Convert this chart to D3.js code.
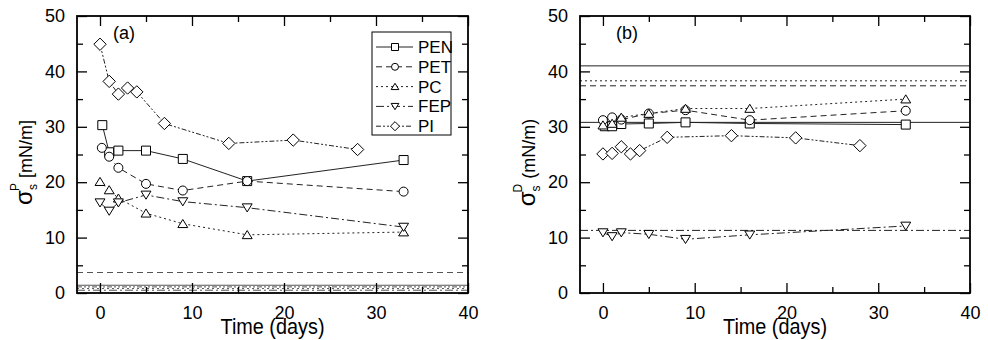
<!DOCTYPE html>
<html><head><meta charset="utf-8">
<script src="https://cdn.jsdelivr.net/npm/d3@7"></script>
<style>body{margin:0;background:#fff}svg{display:block;font-family:"Liberation Sans",Arial,sans-serif}</style>
</head><body><svg id="c" width="988" height="340"></svg>
<script>
// ---- data ----
const seriesNames = ["PEN","PET","PC","FEP","PI"];
const xTicks = [0,10,20,30,40];
const yTicks = [0,10,20,30,40,50];
// panel (a): polar component
const aPEN_x = [0.25,1,2,5,9,16,33];   const aPEN_y = [30.3,25.4,25.7,25.7,24.2,20.2,24.0];
const aPET_x = [0.2,1,2,5,9,16,33];    const aPET_y = [26.2,24.6,22.6,19.7,18.5,20.2,18.3];
const aPC_x  = [0,1,2,5,9,16,33];      const aPC_y  = [20.1,18.6,17.1,14.4,12.5,10.5,11.0];
const aFEP_x = [0,1,2,5,9,16,33];      const aFEP_y = [16.3,14.8,16.3,17.7,16.5,15.4,11.9];
const aPI_x  = [0,1,2,3,4,7,14,21,28]; const aPI_y  = [44.9,38.2,35.9,37.0,36.3,30.6,27.0,27.6,25.9];
const aRef   = {PEN:1.4, PET:3.7, PC:0.8, FEP:0.5, PI:1.1};
// panel (b): dispersive component
const bPEN_x = [0.2,1,2,5,9,16,33];    const bPEN_y = [30.1,30.1,30.5,30.6,30.8,30.6,30.4];
const bPET_x = [0,1,2,5,9,16,33];      const bPET_y = [31.2,31.7,31.3,32.4,33.0,31.2,32.9];
const bPC_x  = [0,1,2,5,9,16,33];      const bPC_y  = [30.3,30.6,31.7,32.4,33.3,33.3,35.0];
const bFEP_x = [0,1,2,5,9,16,33];      const bFEP_y = [10.9,10.2,10.9,10.6,9.7,10.5,12.1];
const bPI_x  = [0,1,2,3,4,7,14,21,28]; const bPI_y  = [25.1,25.2,26.4,25.1,25.7,28.1,28.4,28.0,26.6];
const bRef   = {PEN:30.8, PET:37.4, PC:38.3, FEP:11.3, PI:41.0};

// ---- styles ----
const dash = {PEN:null, PET:"6,4", PC:"2,3", FEP:"8,3,2,3", PI:"5,2,2,2,2,2"};
function markerPath(name, s){
  const h=s/2;
  if(name==="PEN") return `M${-h},${-h}H${h}V${h}H${-h}Z`;
  if(name==="PET") return d3.symbol(d3.symbolCircle, Math.PI*h*h)();
  if(name==="PC")  return `M0,${-h*0.95}L${h*1.1},${h*0.85}L${-h*1.1},${h*0.85}Z`;
  if(name==="FEP") return `M0,${h*0.95}L${h*1.1},${-h*0.85}L${-h*1.1},${-h*0.85}Z`;
  if(name==="PI")  return `M0,${-h*1.3}L${h*1.3},0L0,${h*1.3}L${-h*1.3},0Z`;
}

const svg = d3.select("#c");
const TF = 18;

function panel(cfg){
  const g = svg.append("g");
  const x = d3.scaleLinear().domain([-2.5,40]).range([cfg.left,cfg.right]);
  const y = d3.scaleLinear().domain([0,50]).range([cfg.bottom,cfg.top]);

  // reference lines
  seriesNames.forEach(n=>{
    const dd = (cfg.refDash && n in cfg.refDash) ? cfg.refDash[n] : dash[n];
    g.append("line").attr("x1",cfg.left).attr("x2",cfg.right)
      .attr("y1",y(cfg.ref[n])).attr("y2",y(cfg.ref[n]))
      .attr("stroke", cfg.refColor).attr("stroke-width",1)
      .attr("stroke-dasharray",dd);
  });

  // series
  const line = d3.line().x(d=>x(d[0])).y(d=>y(d[1]));
  cfg.series.forEach(s=>{
    const pts = s.x.map((v,i)=>[v,s.y[i]]);
    g.append("path").attr("d",line(pts)).attr("fill","none")
      .attr("stroke","#222").attr("stroke-width",1).attr("stroke-dasharray",dash[s.name]);
  });
  cfg.series.forEach(s=>{
    const pts = s.x.map((v,i)=>[v,s.y[i]]);
    g.selectAll(null).data(pts).join("path")
      .attr("d",markerPath(s.name, s.name==="PI"?9.5:9))
      .attr("transform",d=>`translate(${x(d[0])},${y(d[1])})`)
      .attr("fill","#fff").attr("stroke","#000").attr("stroke-width",1);
  });

  // axes
  const minorX = [5,15,25,35], minorY=[5,15,25,35,45];
  g.append("g").attr("transform",`translate(0,${cfg.bottom})`)
    .call(d3.axisBottom(x).tickValues(xTicks).tickSize(-10).tickPadding(13).tickFormat(d3.format("d")));
  g.append("g").attr("transform",`translate(0,${cfg.bottom})`)
    .call(d3.axisBottom(x).tickValues(minorX).tickSize(-6).tickFormat(""));
  g.append("g").attr("transform",`translate(0,${cfg.top})`)
    .call(d3.axisTop(x).tickValues(xTicks).tickSize(-10).tickFormat(""));
  g.append("g").attr("transform",`translate(0,${cfg.top})`)
    .call(d3.axisTop(x).tickValues(minorX).tickSize(-6).tickFormat(""));
  g.append("g").attr("transform",`translate(${cfg.left},0)`)
    .call(d3.axisLeft(y).tickValues(yTicks).tickSize(-10).tickPadding(12).tickFormat(d3.format("d")));
  g.append("g").attr("transform",`translate(${cfg.left},0)`)
    .call(d3.axisLeft(y).tickValues(minorY).tickSize(-6).tickFormat(""));
  g.append("g").attr("transform",`translate(${cfg.right},0)`)
    .call(d3.axisRight(y).tickValues(yTicks).tickSize(-10).tickFormat(""));
  g.append("g").attr("transform",`translate(${cfg.right},0)`)
    .call(d3.axisRight(y).tickValues(minorY).tickSize(-6).tickFormat(""));
  g.selectAll(".domain").remove();
  g.selectAll(".tick line").attr("stroke","#000").attr("stroke-width",1.3);
  g.selectAll(".tick text").attr("font-size",TF).attr("fill","#000")
    .attr("font-family","Liberation Sans, Arial, sans-serif");

  // frame
  g.append("rect").attr("x",cfg.left).attr("y",cfg.top)
    .attr("width",cfg.right-cfg.left).attr("height",cfg.bottom-cfg.top)
    .attr("fill","none").attr("stroke","#000").attr("stroke-width",1.8);

  // panel label
  g.append("text").attr("x",cfg.left+36).attr("y",cfg.top+23)
    .attr("font-size",18).text(cfg.tag);

  // x title
  g.append("text").attr("x",(cfg.left+cfg.right)/2).attr("y",334)
    .attr("text-anchor","middle").attr("font-size",22)
    .attr("textLength",104).attr("lengthAdjust","spacingAndGlyphs")
    .text("Time (days)");

  // y title
  const yt = g.append("text")
    .attr("transform",`translate(${cfg.left-45},${(cfg.top+cfg.bottom)/2+8}) rotate(-90)`)
    .attr("text-anchor","middle").attr("font-size",18);
  yt.append("tspan").attr("font-size",24).text("σ");
  yt.append("tspan").attr("font-size",12).attr("dy",5).text("s");
  yt.append("tspan").attr("font-size",12).attr("dx",-7).attr("dy",-18).text(cfg.sup);
  yt.append("tspan").attr("dy",13).text(cfg.unit);
  return {g,x,y};
}

panel({left:77,right:468,top:16,bottom:293,tag:"(a)",sup:"P",unit:" [mN/m]",
  ref:aRef, refColor:"#555",
  series:[
    {name:"PEN",x:aPEN_x,y:aPEN_y},{name:"PET",x:aPET_x,y:aPET_y},
    {name:"PC",x:aPC_x,y:aPC_y},{name:"FEP",x:aFEP_x,y:aFEP_y},{name:"PI",x:aPI_x,y:aPI_y}]});
panel({left:580,right:970,top:16,bottom:293,tag:"(b)",sup:"D",unit:" (mN/m)",
  ref:bRef, refColor:"#222", refDash:{PI:null},
  series:[
    {name:"PEN",x:bPEN_x,y:bPEN_y},{name:"PET",x:bPET_x,y:bPET_y},
    {name:"PC",x:bPC_x,y:bPC_y},{name:"FEP",x:bFEP_x,y:bFEP_y},{name:"PI",x:bPI_x,y:bPI_y}]});

// legend in panel (a)
const lg = svg.append("g");
lg.append("rect").attr("x",372).attr("y",32).attr("width",79).attr("height",103)
  .attr("fill","#fff").attr("stroke","#000").attr("stroke-width",1);
seriesNames.forEach((n,i)=>{
  const yy = 47 + i*19.8;
  lg.append("line").attr("x1",376).attr("x2",413).attr("y1",yy).attr("y2",yy)
    .attr("stroke","#222").attr("stroke-width",1).attr("stroke-dasharray",dash[n]);
  lg.append("path").attr("d",markerPath(n,7)).attr("transform",`translate(395,${yy})`)
    .attr("fill","#fff").attr("stroke","#000");
  lg.append("text").attr("x",418).attr("y",yy+6).attr("font-size",17).text(n);
});
</script></body></html>
